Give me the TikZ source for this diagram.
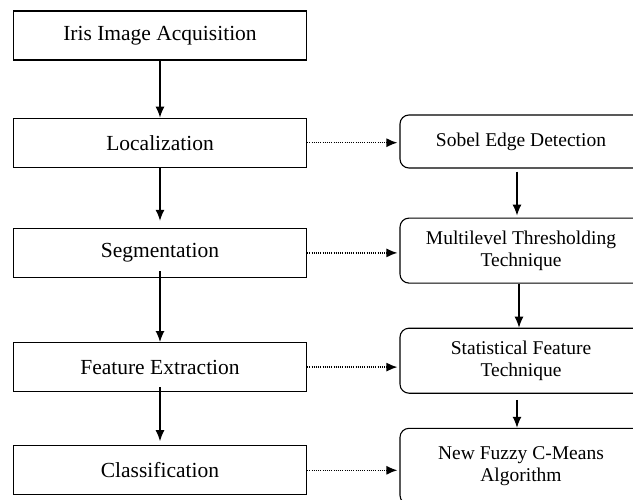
\documentclass[tikz,border=0pt]{standalone}
\usepackage{fontspec}
\setmainfont{Liberation Serif}
\usetikzlibrary{positioning}
\usetikzlibrary{arrows.meta}
\tikzset {
  x=1pt, y=-1pt,
  % boxes of the main pipeline
  stage/.style = {draw, line width=1.2pt, minimum width=293pt, minimum height=49pt,
    font=\fontsize{21.5}{24}\selectfont},
  % rounded boxes for the methods used
  method/.style = {draw, line width=1.1pt, rounded corners=9pt, minimum width=242pt,
    align=center, font=\fontsize{19.5}{21.5}\selectfont},
  % solid arrows between steps
  flow/.style = {-{Latex[length=11pt,width=9pt]}, line width=1.2pt},
  % dotted arrows to the methods
  uses/.style = {-{Latex[length=11pt,width=9pt]}, line width=1.4pt,
    dash pattern=on 1pt off 1.2pt, shorten >=2pt},
}
\begin{document}
\begin{tikzpicture}
      \useasboundingbox (0,0) rectangle (633,499);

      % main pipeline
      \node[stage] (iris) at (160,35.5) {Iris Image Acquisition};

      \node[stage] (loc) [below=57pt of iris] {Localization};

      \node[stage] (seg) [below=60pt of loc] {Segmentation};

      \node[stage] (feat) [below=64pt of seg] {Feature Extraction};

      \node[stage] (cls) [below=53pt of feat] {Classification};

      % methods
      \node[method, minimum height=53pt] (sobel) at (521,141.5) {Sobel Edge Detection};

      \node[method, minimum height=65pt] (thresh) [below=49pt of sobel] {Multilevel Thresholding\\Technique};

      \node[method, minimum height=65pt] (stat) [below=44pt of thresh] {Statistical Feature\\Technique};

      \node[method, minimum height=76pt] (fcm) [below=34pt of stat] {New Fuzzy C-Means\\Algorithm};

      \draw[flow] (iris) -- (loc);
      \draw[flow, shorten >=7pt] (loc) -- (seg);
      \draw[flow, shorten <=-7pt] (seg) -- (feat);
      \draw[flow, shorten <=-5pt, shorten >=4pt] (feat) -- (cls);

      \draw[flow, shorten <=3pt, shorten >=2pt] (sobel.south -| 517,0) -- (thresh.north -| 517,0);
      \draw[flow] (thresh.south -| 519,0) -- (stat.north -| 519,0);
      \draw[flow, shorten <=6pt] (stat.south -| 517,0) -- (fcm.north -| 517,0);

      \draw[uses] (loc.east) -- (loc.east -| sobel.west);
      \draw[uses] (seg.east) -- (seg.east -| thresh.west);
      \draw[uses] (feat.east) -- (feat.east -| stat.west);
      \draw[uses] (cls.east) -- (cls.east -| fcm.west);
    \end{tikzpicture}
\end{document}
